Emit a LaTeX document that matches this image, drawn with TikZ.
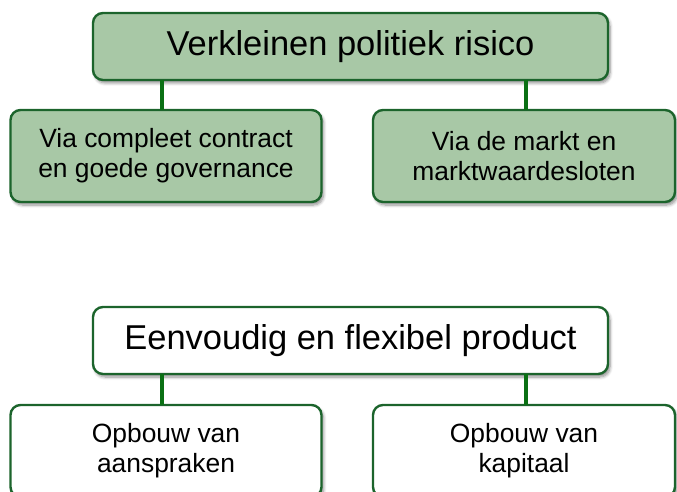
\documentclass[tikz,border=0pt]{standalone}
\usepackage{fontspec}
\setmainfont{Liberation Sans}
\usetikzlibrary{shadows.blur}
\definecolor{boxfill}{RGB}{168,200,166}
\definecolor{boxline}{RGB}{28,100,44}
\definecolor{linkline}{RGB}{10,112,20}
\tikzset{
  basebox/.style={draw=boxline, line width=2.4bp, rounded corners=10bp,
    inner sep=0pt, outer sep=0pt, align=center,
    blur shadow={shadow xshift=2bp, shadow yshift=-3bp, shadow blur steps=6, shadow blur radius=3bp, shadow opacity=45}},
  headbox/.style={basebox, minimum width=515bp, minimum height=67bp,
    font=\fontsize{34.6}{40}\selectfont},
  childbox/.style={basebox, minimum width=311bp, minimum height=92bp,
    font=\fontsize{26.5}{30}\selectfont},
  greenbox/.style={fill=boxfill},
  whitebox/.style={fill=white},
  link/.style={draw=linkline, line width=3.2bp}
}
\begin{document}
\begin{tikzpicture}[x=1bp,y=-1bp]
\useasboundingbox (0,0) rectangle (677,492);
\clip (0,0) rectangle (677,492);
% top group
\node[headbox, greenbox] (t) at (350.5,46.5) {Verkleinen politiek risico};
\node[childbox, greenbox] (tl) at (166,156) {Via compleet contract\\en goede governance};
\node[childbox, greenbox, minimum width=302bp] (tr) at (524,156) {Via de markt en\\marktwaardesloten};
\coordinate (tla) at (162,80);
\coordinate (tra) at (526,80);
\draw[link] (t.south -| tla) -- (tl.north -| tla);
\draw[link] (t.south -| tra) -- (tr.north -| tra);
% bottom group
\node[headbox, whitebox] (b) at (350.5,340.5) {Eenvoudig en flexibel product};
\node[childbox, whitebox] (bl) at (166,451) {Opbouw van\\aanspraken};
\node[childbox, whitebox, minimum width=302bp] (br) at (524,451) {Opbouw van\\kapitaal};
\draw[link] (b.south -| tla) -- (bl.north -| tla);
\draw[link] (b.south -| tra) -- (br.north -| tra);
\end{tikzpicture}
\end{document}
